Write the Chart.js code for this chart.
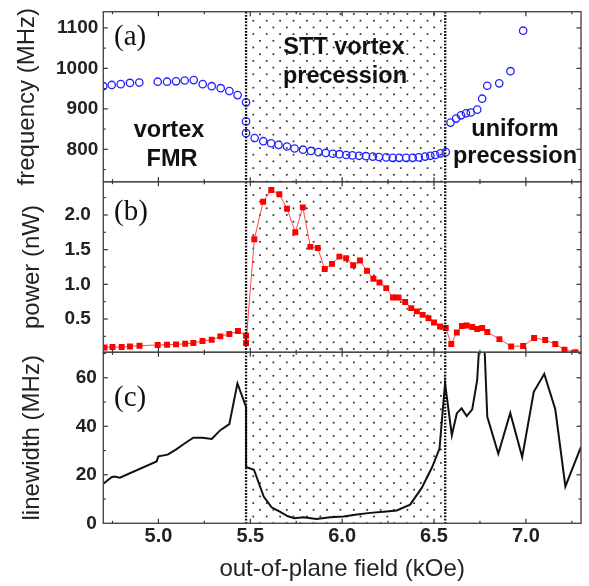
<!DOCTYPE html>
<html><head><meta charset="utf-8">
<script src="https://cdn.jsdelivr.net/npm/chart.js@4.4.1/dist/chart.umd.min.js"></script>
<style>
html,body{margin:0;padding:0;background:#fff;overflow:hidden}
#wrap{position:relative;width:589px;height:586px;background:#fff}
#wrap canvas{position:absolute;left:0;top:0}
</style></head><body>
<div id="wrap"><canvas id="ca" width="589" height="586"></canvas><canvas id="cb" width="589" height="586"></canvas><canvas id="cc" width="589" height="586"></canvas></div>
<script>
// ---------------- data ----------------
const fieldF = [4.70, 4.746, 4.795, 4.845, 4.896, 4.996, 5.047, 5.096, 5.143, 5.192, 5.241, 5.29, 5.339, 5.386, 5.431, 5.477, 5.477, 5.477, 5.524, 5.571, 5.613, 5.654, 5.70, 5.741, 5.787, 5.83, 5.871, 5.911, 5.949, 5.985, 6.022, 6.056, 6.092, 6.13, 6.167, 6.2, 6.24, 6.275, 6.31, 6.348, 6.384, 6.417, 6.451, 6.48, 6.507, 6.535, 6.564, 6.59, 6.62, 6.647, 6.674, 6.70, 6.735, 6.762, 6.79, 6.855, 6.916, 6.985];
const freqMHz = [956, 959, 961, 964, 965, 967, 967, 968, 970, 971, 961, 956, 951, 944, 934, 916, 869, 840, 828, 820, 815, 811, 807, 802, 799, 796, 793, 791, 789, 788, 786, 785, 784, 783, 782, 781, 780, 779, 779, 779, 779, 780, 782, 784, 786, 790, 793, 866, 876, 884, 889, 891, 898, 925, 957, 963, 993, 1093];

const fieldP = [4.707, 4.75, 4.80, 4.845, 4.897, 4.996, 5.047, 5.096, 5.146, 5.19, 5.24, 5.29, 5.337, 5.386, 5.433, 5.477, 5.477, 5.522, 5.57, 5.614, 5.658, 5.70, 5.745, 5.786, 5.827, 5.867, 5.905, 5.945, 5.985, 6.022, 6.06, 6.097, 6.135, 6.17, 6.203, 6.24, 6.277, 6.307, 6.343, 6.376, 6.407, 6.438, 6.47, 6.50, 6.533, 6.564, 6.594, 6.624, 6.652, 6.678, 6.708, 6.735, 6.762, 6.79, 6.856, 6.92, 6.985, 7.045, 7.105, 7.16, 7.21, 7.27];
const powerNW = [0.09, 0.096, 0.096, 0.105, 0.115, 0.125, 0.13, 0.134, 0.144, 0.154, 0.183, 0.20, 0.25, 0.283, 0.326, 0.26, 0.154, 1.65, 2.19, 2.36, 2.30, 2.09, 1.75, 2.11, 1.54, 1.525, 1.22, 1.295, 1.40, 1.377, 1.276, 1.343, 1.194, 1.08, 1.026, 0.945, 0.81, 0.81, 0.744, 0.657, 0.61, 0.56, 0.51, 0.45, 0.393, 0.37, 0.14, 0.306, 0.40, 0.407, 0.384, 0.355, 0.37, 0.312, 0.21, 0.105, 0.11, 0.226, 0.197, 0.14, 0.058, 0.02];

const fieldL = [4.70, 4.745, 4.76, 4.79, 4.99, 5.0, 5.05, 5.095, 5.146, 5.19, 5.24, 5.29, 5.337, 5.386, 5.43, 5.477, 5.477, 5.52, 5.573, 5.616, 5.66, 5.705, 5.74, 5.79, 5.86, 5.935, 6.008, 6.08, 6.153, 6.225, 6.297, 6.37, 6.434, 6.49, 6.53, 6.56, 6.597, 6.624, 6.65, 6.678, 6.708, 6.735, 6.763, 6.79, 6.85, 6.915, 6.98, 7.043, 7.10, 7.16, 7.215, 7.30];
const linewidthMHz = [16.3, 19.0, 19.3, 18.8, 25.5, 27.6, 28.3, 30.4, 33.1, 35.3, 35.3, 34.8, 38.4, 40.9, 57.7, 48.0, 23.2, 22.1, 11.0, 6.6, 4.8, 2.9, 2.1, 2.5, 1.8, 2.5, 2.8, 3.6, 4.3, 4.8, 5.3, 7.7, 14.7, 23.2, 30.8, 57.7, 36.3, 45.3, 47.4, 44.2, 47.0, 59.1, 95, 43.9, 28.7, 45.5, 27.3, 54.2, 61.6, 47.0, 15.2, 31.5];

const xTickLabels = [5.0, 5.5, 6.0, 6.5, 7.0];
const freqTickLabels = [800, 900, 1000, 1100];
const powerTickLabels = [0.5, 1.0, 1.5, 2.0];
const lwTickLabels = [0, 20, 40, 60];
const regionBounds = [5.477, 6.561];

// ---------------- layout / style ----------------
const W = 589, H = 586, PL = 103.3, PR = 581;
const panelTop = [11.7, 181.7, 352.3], panelBot = [181.7, 352.3, 523.3];
const SANS = '"Liberation Sans", Arial, sans-serif';
const SERIF = '"Liberation Serif", "Times New Roman", serif';
const near = (a, b) => Math.abs(a - b) < 1e-6;
const isMult = (v, s) => near(Math.round(v / s) * s, v);

function drawPattern(chart) {
  const {ctx, chartArea: a, scales: {x}} = chart;
  const x0 = x.getPixelForValue(regionBounds[0]), x1 = x.getPixelForValue(regionBounds[1]);
  ctx.save();
  ctx.beginPath(); ctx.rect(x0 + 2, a.top, x1 - x0 - 4, a.bottom - a.top); ctx.clip();
  ctx.fillStyle = '#2a2a2a';
  const dy = 6.7, dx = 13.4, y0 = 14, xe = 260, xo = 253.3;
  for (let k = -3; k < 200; k++) {
    const yy = y0 + k * dy;
    if (yy > a.bottom + 2) break;
    if (yy < a.top - 2) continue;
    const ph = (k % 2 === 0) ? xe : xo;
    const xs = ph - Math.ceil((ph - x0) / dx) * dx;
    for (let xx = xs; xx <= x1; xx += dx) ctx.fillRect(xx - 0.85, yy - 0.85, 1.7, 1.7);
  }
  ctx.restore();
}

function makePlugin(yStep, yMajors, texts) {
  return {
    id: 'frame',
    beforeDatasetsDraw(chart) { drawPattern(chart); },
    afterDatasetsDraw(chart) {
      const {ctx, chartArea: a, scales: {x, y}} = chart;
      ctx.save();
      // dotted separators
      ctx.strokeStyle = '#111'; ctx.lineWidth = 2.3; ctx.setLineDash([1.8, 1.4]);
      for (const b of regionBounds) {
        const px = x.getPixelForValue(b);
        ctx.beginPath(); ctx.moveTo(px, a.top); ctx.lineTo(px, a.bottom); ctx.stroke();
      }
      ctx.setLineDash([]);
      // frame
      ctx.strokeStyle = '#4a4a4a'; ctx.lineWidth = 1.4;
      ctx.strokeRect(a.left, a.top, a.right - a.left, a.bottom - a.top);
      // inward ticks
      ctx.strokeStyle = '#333'; ctx.lineWidth = 1.2;
      const seg = (x1, y1, x2, y2) => { ctx.beginPath(); ctx.moveTo(x1, y1); ctx.lineTo(x2, y2); ctx.stroke(); };
      for (const t of y.ticks) {
        const v = t.value; if (!isMult(v, yStep)) continue;
        const py = y.getPixelForValue(v);
        if (py < a.top + 1 || py > a.bottom - 1) continue;
        const len = yMajors(v) ? 4.5 : 2.5;
        seg(a.left, py, a.left + len, py); seg(a.right, py, a.right - len, py);
      }
      for (const t of x.ticks) {
        const v = t.value; if (!isMult(v, 0.25)) continue;
        const px = x.getPixelForValue(v);
        if (px < a.left + 1 || px > a.right - 1) continue;
        const len = isMult(v, 0.5) ? 4.5 : 2.5;
        seg(px, a.top, px, a.top + len); seg(px, a.bottom, px, a.bottom - len);
      }
      // texts
      ctx.textBaseline = 'middle';
      for (const tx of texts) {
        ctx.font = tx.font; ctx.fillStyle = '#111'; ctx.textAlign = tx.align || 'center';
        ctx.fillText(tx.t, tx.x, tx.y);
      }
      ctx.restore();
    }
  };
}

function xAxis(visible, i) {
  return {
    type: 'linear', position: 'bottom', min: 4.7, max: 7.3,
    afterBuildTicks: s => { s.ticks = s.ticks.filter(t => isMult(t.value, 0.25)); },
    ticks: {display: visible, stepSize: 0.25, includeBounds: false, autoSkip: false, maxRotation: 0, padding: 1, color: '#222',
      font: {family: SANS, size: 20, weight: 'bold'},
      callback: v => { const l = xTickLabels.find(q => near(q, v)); return l === undefined ? '' : l.toFixed(1); }},
    grid: {display: false, drawTicks: false}, border: {display: false},
    title: {display: visible, text: 'out-of-plane field (kOe)', color: '#222', font: {family: SANS, size: 24}, padding: {top: 0, bottom: 2}},
    afterFit: s => { s.height = visible ? H - panelBot[i] : 0; s.paddingLeft = 0; s.paddingRight = 0; }
  };
}

function yAxis(min, max, step, labels, fmt, pad, titleText, titlePad) {
  return {
    type: 'linear', position: 'left', min, max,
    afterBuildTicks: s => { s.ticks = s.ticks.filter(t => isMult(t.value, step)); },
    ticks: {stepSize: step, includeBounds: false, autoSkip: false, padding: pad, color: '#222',
      font: {family: SANS, size: 19, weight: 'bold'},
      callback: v => { const l = labels.find(q => near(q, v)); return l === undefined ? '' : fmt(l); }},
    grid: {display: false, drawTicks: false}, border: {display: false},
    title: {display: true, text: titleText, color: '#222', font: {family: SANS, size: 24}, padding: {top: titlePad, bottom: 0}},
    afterFit: s => { s.width = PL; s.paddingTop = 0; s.paddingBottom = 0; }
  };
}

function make(id, i, dataset, yOpts, plugin) {
  const last = i === 2;
  return new Chart(document.getElementById(id), {
    type: 'line',
    data: {datasets: [dataset]},
    options: {
      responsive: false, animation: false, events: [],
      layout: {padding: {left: 0, right: W - PR, top: panelTop[i], bottom: last ? 0 : H - panelBot[i]}},
      plugins: {legend: {display: false}, tooltip: {enabled: false}},
      scales: {x: xAxis(last, i), y: yOpts}
    },
    plugins: [plugin]
  });
}

const boldF = 'bold 23.5px ' + SANS;
const labF = '29px ' + SERIF;

make('ca', 0, {
  data: fieldF.map((x, k) => ({x, y: freqMHz[k]})),
  showLine: false, pointStyle: 'circle', pointRadius: 3.7, pointBorderWidth: 1.3,
  pointBorderColor: '#2222ff', pointBackgroundColor: 'rgba(0,0,0,0)', borderColor: '#2222ff'
}, yAxis(720, 1140, 50, freqTickLabels, v => String(v), 5, 'frequency (MHz)', 13),
makePlugin(50, v => isMult(v, 100), [
  {t: '(a)', x: 114, y: 37, font: labF, align: 'left'},
  {t: 'vortex', x: 169, y: 131, font: boldF},
  {t: 'FMR', x: 172, y: 160, font: boldF},
  {t: 'STT vortex', x: 344, y: 48, font: boldF},
  {t: 'precession', x: 345, y: 77, font: boldF},
  {t: 'uniform', x: 515, y: 130, font: boldF},
  {t: 'precession', x: 515, y: 157, font: boldF}
]));

make('cb', 1, {
  data: fieldP.map((x, k) => ({x, y: powerNW[k]})),
  borderColor: '#ff4a4a', borderWidth: 1, tension: 0,
  pointStyle: 'rect', pointRadius: 4.2, pointBorderWidth: 0, pointBackgroundColor: '#ff0000'
}, yAxis(0.02, 2.48, 0.25, powerTickLabels, v => v.toFixed(1), 12.5, 'power (nW)', 18),
makePlugin(0.25, v => isMult(v, 0.5), [
  {t: '(b)', x: 114, y: 212, font: labF, align: 'left'}
]));

make('cc', 2, {
  data: fieldL.map((x, k) => ({x, y: linewidthMHz[k]})),
  borderColor: '#111', borderWidth: 2, tension: 0, pointRadius: 0
}, yAxis(0, 70.5, 10, lwTickLabels, v => String(v), 6.5, 'linewidth (MHz)', 18),
makePlugin(10, v => isMult(v, 20), [
  {t: '(c)', x: 114, y: 398, font: labF, align: 'left'}
]));
</script></body></html>
